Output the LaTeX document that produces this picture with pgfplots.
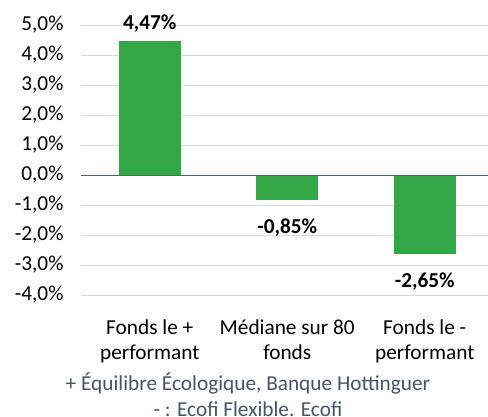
\documentclass[border=0pt]{standalone}
\usepackage{pgfplots}
\pgfplotsset{compat=1.18}
\usepackage{fontspec}
\setmainfont{Carlito}
\definecolor{barg}{HTML}{34A846}
\definecolor{zline}{HTML}{3B64AD}
\definecolor{gridc}{HTML}{D9D9D9}
\definecolor{foot}{HTML}{44546A}
\begin{document}
\begin{tikzpicture}[x=1pt,y=1pt]
\useasboundingbox (0,0) rectangle (488,417);
\begin{axis}[
  at={(81pt,122pt)}, anchor=south west,
  scale only axis, width=412.5pt, height=270pt,
  xmin=-0.5, xmax=2.5, ymin=-4, ymax=5,
  ytick={-4,-3,-2,-1,0,1,2,3,4,5},
  xtick={0,1,2},
  xticklabels={{Fonds le +\\performant},{Médiane sur 80\\fonds},{Fonds le -\\performant}},
  axis line style={draw=none}, tick style={draw=none},
  ymajorgrids, grid style={gridc, line width=0.8pt},
  /pgf/number format/assume math mode=true,
  yticklabel={\pgfmathprintnumber[fixed,fixed zerofill,precision=1,use comma]{\tick}\%},
  yticklabel style={anchor=east, xshift=-14pt, font=\fontsize{21.3}{25}\selectfont},
  xticklabel style={align=center, yshift=-17pt, font=\fontsize{21.3}{25}\selectfont},
  ybar, bar width=62pt,
  nodes near coords={\pgfmathprintnumber[fixed,fixed zerofill,precision=2,use comma]{\pgfplotspointmeta}\%},
  nodes near coords align={anchor=base},
  every node near coord/.append style={font=\fontsize{21.3}{25}\selectfont\bfseries, text=black},
]
\addplot[fill=barg, draw=none, bar shift=0pt, every node near coord/.append style={yshift=11pt}] coordinates {(0,4.47)};
\addplot[fill=barg, draw=none, bar shift=0pt, every node near coord/.append style={yshift=-33pt}] coordinates {(1,-0.85)};
\addplot[fill=barg, draw=none, bar shift=0pt, every node near coord/.append style={yshift=-33pt}] coordinates {(2,-2.65)};
\draw[zline, line width=1pt] (axis cs:-0.5,0) -- (axis cs:2.5,0);
\end{axis}
\node[anchor=base, text=foot, font=\fontsize{21.3}{25}\selectfont] at (248,26) {+ Équilibre Écologique, Banque Hottinguer};
\node[anchor=base, text=foot, font=\fontsize{21.3}{25}\selectfont] at (248,0.5) {- : Ecofi Flexible. Ecofi};
\end{tikzpicture}
\end{document}
